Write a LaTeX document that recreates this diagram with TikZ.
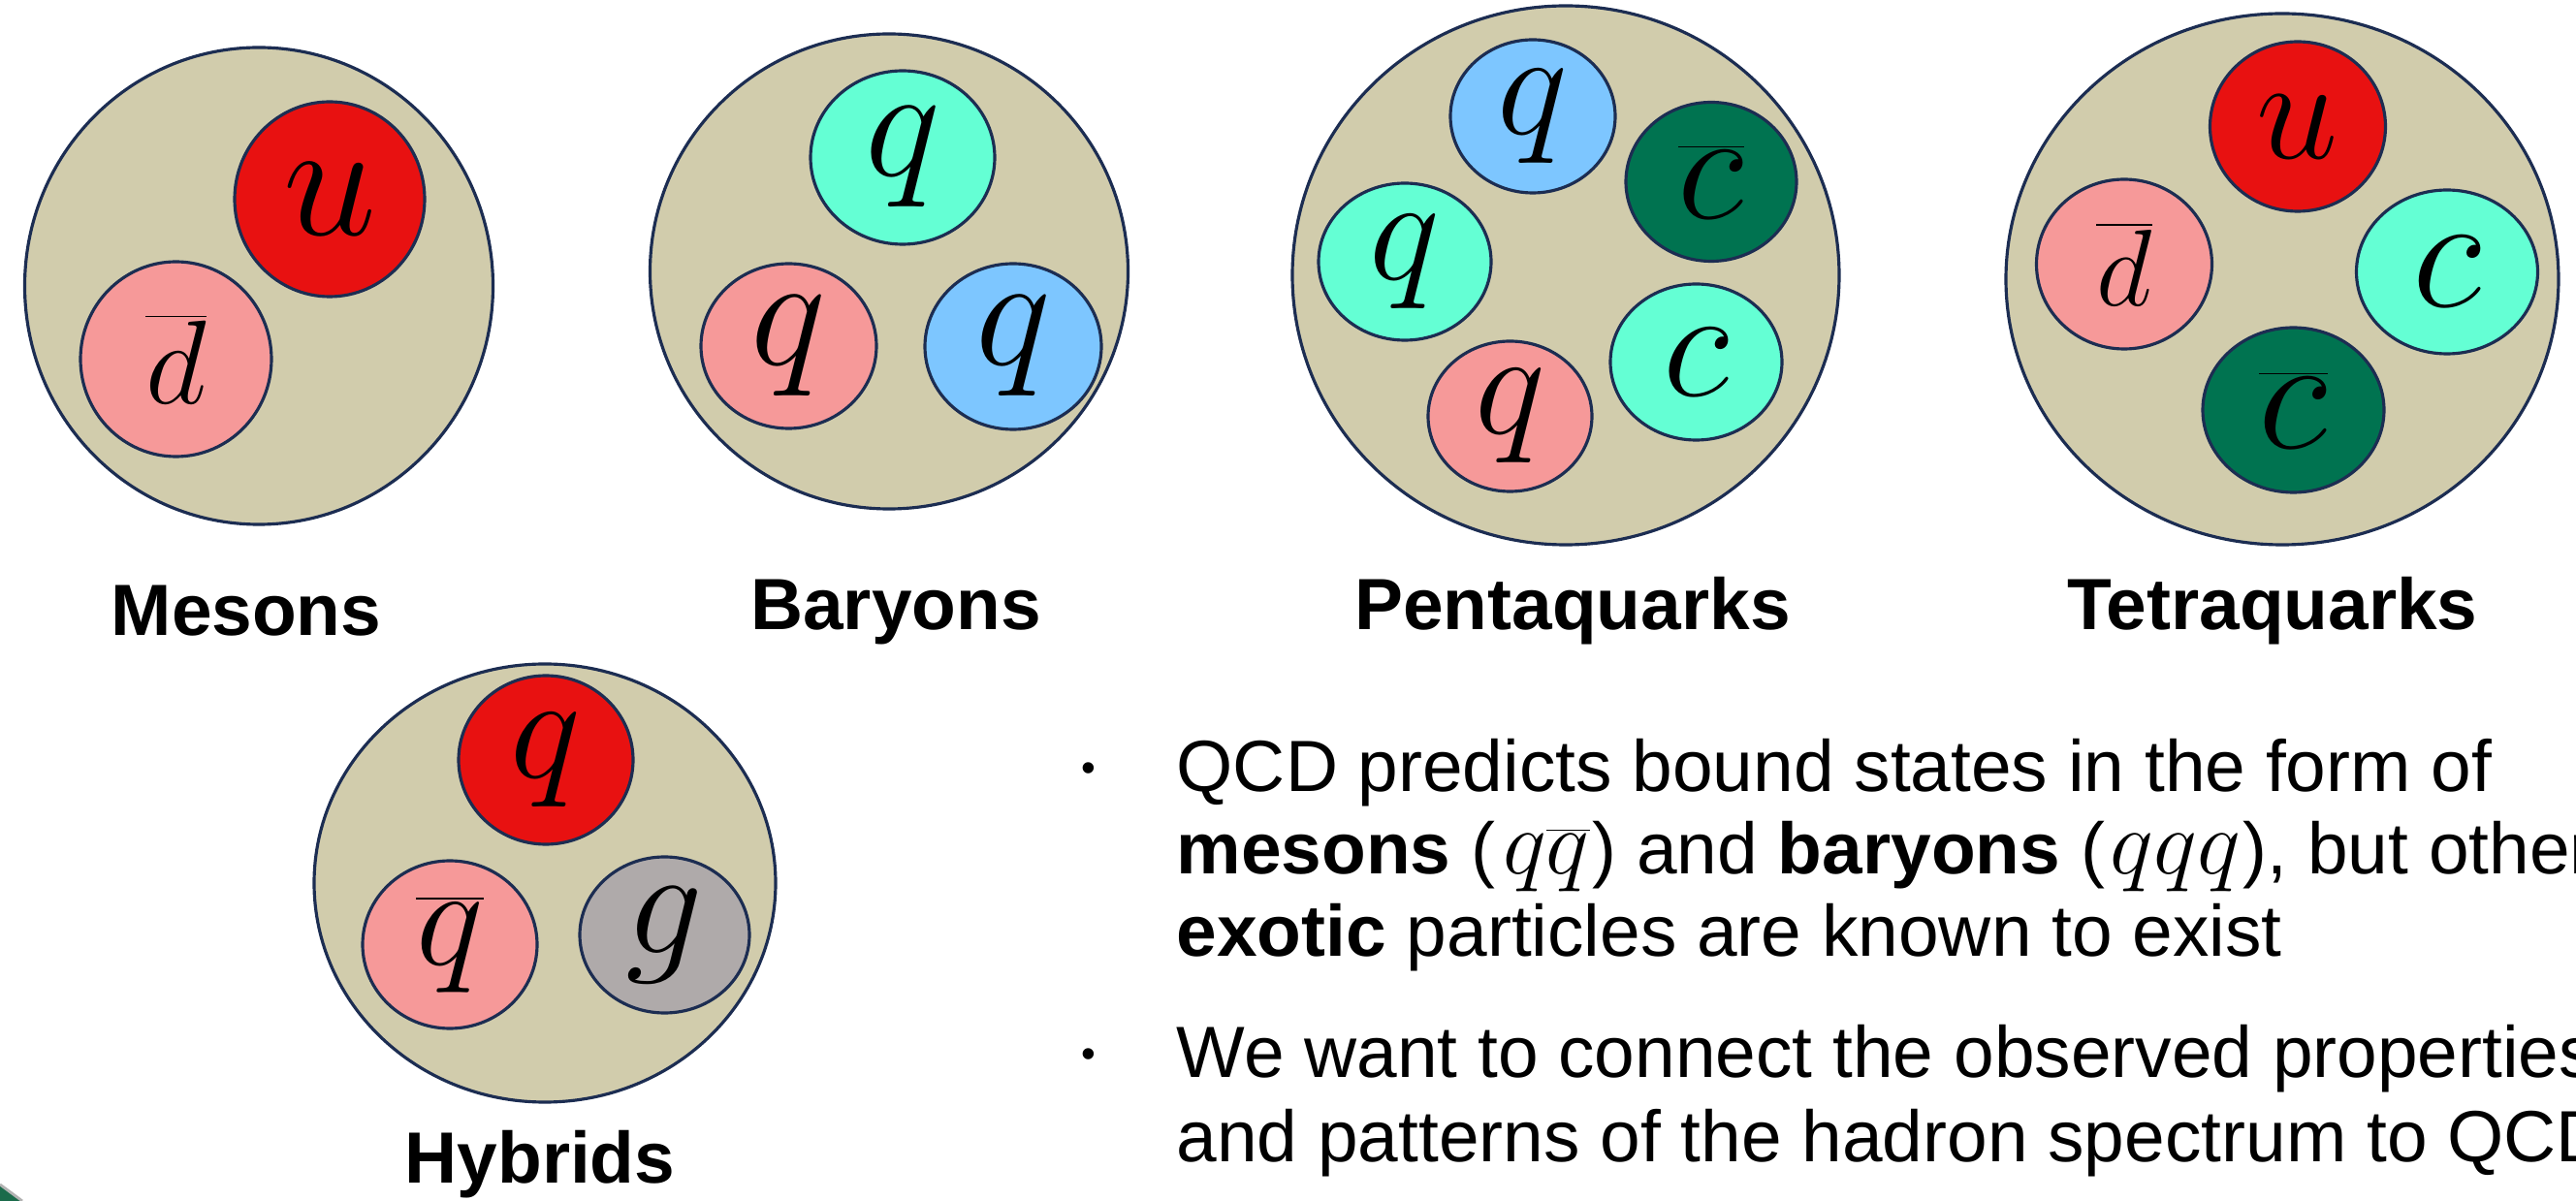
\RequirePackage{fix-cm}
\documentclass[tikz,border=0pt]{standalone}
\usepackage[no-math]{fontspec}
\setmainfont{Liberation Sans}
\usetikzlibrary{shapes.geometric}
\definecolor{hadronbg}{RGB}{209,204,172}
\definecolor{rimblue}{RGB}{28,45,82}
\definecolor{qred}{RGB}{232,17,17}
\definecolor{qpink}{RGB}{246,153,153}
\definecolor{qteal}{RGB}{100,255,212}
\definecolor{qblue}{RGB}{125,198,255}
\definecolor{qdark}{RGB}{0,115,80}
\definecolor{qgray}{RGB}{175,170,170}
\definecolor{cornergreen}{RGB}{27,107,75}
% quark content set inside the bullet text
\newcommand{\inlinequarks}[1]{{\fontsize{27}{27}\selectfont$#1$}}

\begin{document}
\begin{tikzpicture}[
  hadron/.style={ellipse, draw=rimblue, fill=hadronbg, line width=0.9pt, inner sep=0pt},
  quark/.style={ellipse, draw=rimblue, line width=0.9pt, inner sep=0pt, font=\fontsize{46}{46}\selectfont},
  hadname/.style={anchor=base, inner sep=0pt, font=\fontsize{21.3}{25}\selectfont\bfseries},
  bodyline/.style={anchor=base west, inner sep=0pt, font=\fontsize{21.3}{25}\selectfont},
  bulletmark/.style={inner sep=0pt, font=\fontsize{12}{12}\selectfont}
]

\useasboundingbox[fill=white] (0,0) rectangle (26.57,-12.39);

% ================= MESONS =================
\node[hadron, minimum width=4.83cm, minimum height=4.92cm] (mes) at (2.67,-2.95) {};
\node[quark, fill=qred, minimum width=1.96cm, minimum height=2.01cm, font=\fontsize{49}{49}\selectfont] (mesU) at (3.40,-2.055) {$u$};
\node[quark, fill=qpink, minimum width=1.97cm, minimum height=2.01cm, font=\fontsize{35}{35}\selectfont] (mesD) at (1.815,-3.705) {$\overline{d}$};
\node[hadname] (mesName) at (2.54,-6.56) {Mesons};

% ================= BARYONS =================
\node[hadron, minimum width=4.93cm, minimum height=4.90cm] (bar) at (9.17,-2.80) {};
\node[quark, fill=qteal, minimum width=1.90cm, minimum height=1.79cm, font=\fontsize{47}{47}\selectfont] (barQa) at (9.31,-1.625) {$q$};
\node[quark, fill=qpink, minimum width=1.81cm, minimum height=1.70cm, font=\fontsize{47}{47}\selectfont] (barQb) at (8.135,-3.57) {$q$};
\node[quark, fill=qblue, minimum width=1.82cm, minimum height=1.71cm, font=\fontsize{47}{47}\selectfont] (barQc) at (10.45,-3.575) {$q$};
\node[hadname] (barName) at (9.24,-6.50) {Baryons};

% ================= PENTAQUARKS =================
\node[hadron, minimum width=5.64cm, minimum height=5.56cm] (pen) at (16.15,-2.84) {};
\node[quark, fill=qblue, minimum width=1.70cm, minimum height=1.58cm, font=\fontsize{44}{44}\selectfont] (penQa) at (15.81,-1.20) {$q$};
\node[quark, fill=qdark, minimum width=1.76cm, minimum height=1.64cm] (penCb) at (17.65,-1.875) {$\overline{c}$};
\node[quark, fill=qteal, minimum width=1.78cm, minimum height=1.62cm, font=\fontsize{44}{44}\selectfont] (penQb) at (14.49,-2.70) {$q$};
\node[quark, fill=qteal, minimum width=1.77cm, minimum height=1.61cm] (penC) at (17.495,-3.735) {$c$};
\node[quark, fill=qpink, minimum width=1.69cm, minimum height=1.55cm, font=\fontsize{44}{44}\selectfont] (penQc) at (15.575,-4.295) {$q$};
\node[hadname] (penName) at (16.22,-6.50) {Pentaquarks};

% ================= TETRAQUARKS =================
\node[hadron, minimum width=5.70cm, minimum height=5.48cm] (tet) at (23.54,-2.88) {};
\node[quark, fill=qred, minimum width=1.81cm, minimum height=1.75cm, font=\fontsize{43}{43}\selectfont] (tetU) at (23.70,-1.305) {$u$};
\node[quark, fill=qpink, minimum width=1.81cm, minimum height=1.75cm, font=\fontsize{32}{32}\selectfont] (tetD) at (21.91,-2.725) {$\overline{d}$};
\node[quark, fill=qteal, minimum width=1.87cm, minimum height=1.69cm, font=\fontsize{48}{48}\selectfont] (tetC) at (25.24,-2.805) {$c$};
\node[quark, fill=qdark, minimum width=1.87cm, minimum height=1.70cm, font=\fontsize{48}{48}\selectfont] (tetCb) at (23.655,-4.23) {$\overline{c}$};
\node[hadname] (tetName) at (23.44,-6.50) {Tetraquarks};

% ================= HYBRIDS =================
\node[hadron, minimum width=4.76cm, minimum height=4.52cm] (hyb) at (5.62,-9.11) {};
\node[quark, fill=qred, minimum width=1.80cm, minimum height=1.74cm, font=\fontsize{44}{44}\selectfont] (hybQ) at (5.63,-7.84) {$q$};
\node[quark, fill=qpink, minimum width=1.80cm, minimum height=1.73cm, font=\fontsize{42}{42}\selectfont] (hybQb) at (4.64,-9.745) {$\overline{q}$};
\node[quark, fill=qgray, minimum width=1.75cm, minimum height=1.61cm, font=\fontsize{45}{45}\selectfont] (hybG) at (6.855,-9.645) {$g$};
\node[hadname] (hybName) at (5.57,-12.20) {Hybrids};

% ================= TEXT =================
\node[bulletmark] (dotA) at (11.23,-7.97) {•};
\node[bodyline] (lineA) at (12.13,-8.17) {QCD predicts bound states in the form of};
\node[bodyline] (lineB) at (12.13,-9.02) {\textbf{mesons} (\kern0.08cm\inlinequarks{q\overline{q}}\kern0.03cm) and \textbf{baryons} (\kern0.06cm\inlinequarks{qqq}\kern0.03cm), but other};
\node[bodyline] (lineC) at (12.13,-9.87) {\textbf{exotic} particles are known to exist};
\node[bulletmark] (dotB) at (11.23,-10.92) {•};
\node[bodyline] (lineD) at (12.13,-11.12) {We want to connect the observed properties};
\node[bodyline] (lineE) at (12.13,-11.98) {and patterns of the hadron spectrum to QCD};

% corner of the slide decoration
\fill[cornergreen] (0,-12.23) -- (0.22,-12.39) -- (0,-12.39) -- cycle;
\draw[gray!60, line width=0.8pt] (0,-12.22) -- (0.23,-12.39);

\end{tikzpicture}
\end{document}
